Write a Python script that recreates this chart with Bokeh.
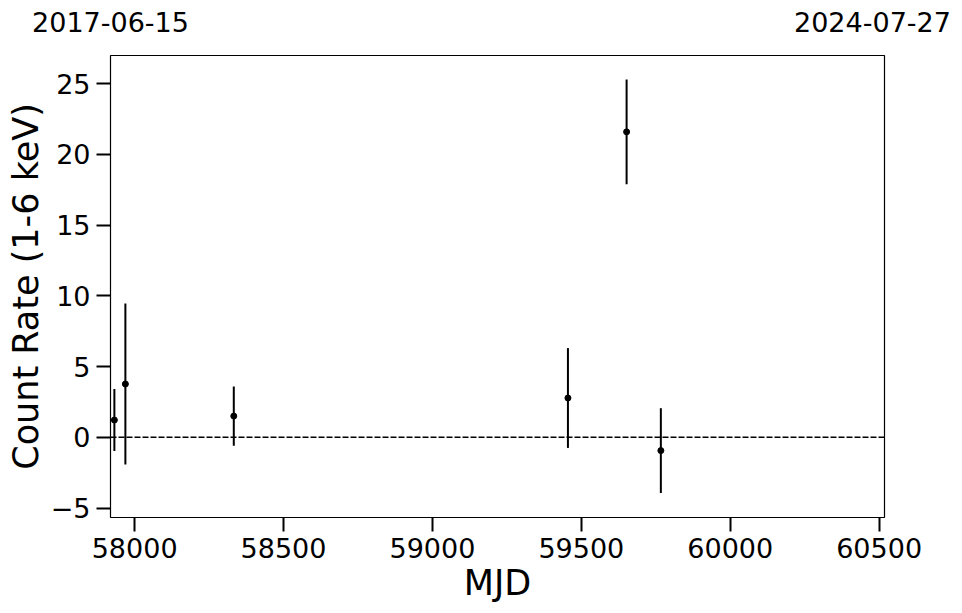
from bokeh.plotting import figure
from bokeh.models import Span, LinearAxis, FixedTicker, Range1d, ColumnDataSource
from bokeh.embed import file_html
from bokeh.resources import INLINE

# Data (MJD, count rate 1-6 keV, 1-sigma error)
mjd = [57932, 57969, 58333, 59455, 59652, 59767]
rate = [1.22, 3.77, 1.5, 2.78, 21.6, -0.94]
err = [2.19, 5.7, 2.1, 3.53, 3.7, 3.0]

x_start, x_end = 57919, 60518   # 2017-06-15 .. 2024-07-27
y_start, y_end = -5.67, 27.0
date_start, date_end = "2017-06-15", "2024-07-27"
x_ticks = [58000, 58500, 59000, 59500, 60000, 60500]
y_ticks = [-5, 0, 5, 10, 15, 20, 25]

lower = [r - e for r, e in zip(rate, err)]
upper = [r + e for r, e in zip(rate, err)]
src = ColumnDataSource(dict(x=mjd, y=rate, lo=lower, hi=upper))

FONT = "DejaVu Sans"

p = figure(output_backend="svg", toolbar_location=None,
           frame_width=774, frame_height=462,
           min_border_left=110, min_border_top=55,
           min_border_right=78, min_border_bottom=96,
           x_range=Range1d(x_start, x_end), y_range=Range1d(y_start, y_end))

# slightly stretched range used only to place the date labels of the top axis
label_pad = 41
p.extra_x_ranges = {"dates": Range1d(x_start, x_end + label_pad)}

p.xgrid.visible = False
p.ygrid.visible = False
p.outline_line_color = "black"
p.outline_line_width = 1.2
p.background_fill_color = "white"
p.border_fill_color = "white"

p.segment(x0="x", y0="lo", x1="x", y1="hi", source=src, line_color="black", line_width=2)
p.scatter(x="x", y="y", source=src, size=6, color="black")

p.add_layout(Span(location=0, dimension="width", line_color="black",
                  line_width=1.5, line_dash="6 2"))

for ax in (p.xaxis[0], p.yaxis[0]):
    ax.axis_line_color = None
    ax.major_tick_line_width = 2
    ax.major_tick_line_color = "black"
    ax.major_tick_out = 14
    ax.major_tick_in = 0
    ax.minor_tick_line_color = None
    ax.major_label_text_font = FONT
    ax.major_label_text_font_size = "27px"
    ax.major_label_text_color = "black"
    ax.axis_label_text_font = FONT
    ax.axis_label_text_font_size = "35px"
    ax.axis_label_text_font_style = "normal"
    ax.axis_label_text_color = "black"
    ax.major_label_standoff = 6

p.xaxis.ticker = FixedTicker(ticks=x_ticks)
p.yaxis.ticker = FixedTicker(ticks=y_ticks)
p.yaxis.major_label_overrides = {t: (f"\u2212{abs(t)}" if t < 0 else str(t)) for t in y_ticks}
p.xaxis.axis_label = "MJD"
p.yaxis.axis_label = "Count Rate (1-6 keV)"
p.xaxis.axis_label_standoff = 2
p.yaxis.axis_label_standoff = 2

# Top axis: calendar dates at the ends of the MJD range
top = LinearAxis(x_range_name="dates",
                 ticker=FixedTicker(ticks=[x_start, x_end]),
                 major_label_overrides={x_start: date_start, x_end: date_end},
                 axis_line_color=None, major_tick_line_color=None,
                 major_tick_out=0, major_tick_in=0, minor_tick_line_color=None,
                 major_label_standoff=24,
                 major_label_text_font=FONT, major_label_text_font_size="27px",
                 major_label_text_color="black")
p.add_layout(top, "above")

open("out.html", "w").write(file_html(p, INLINE))
